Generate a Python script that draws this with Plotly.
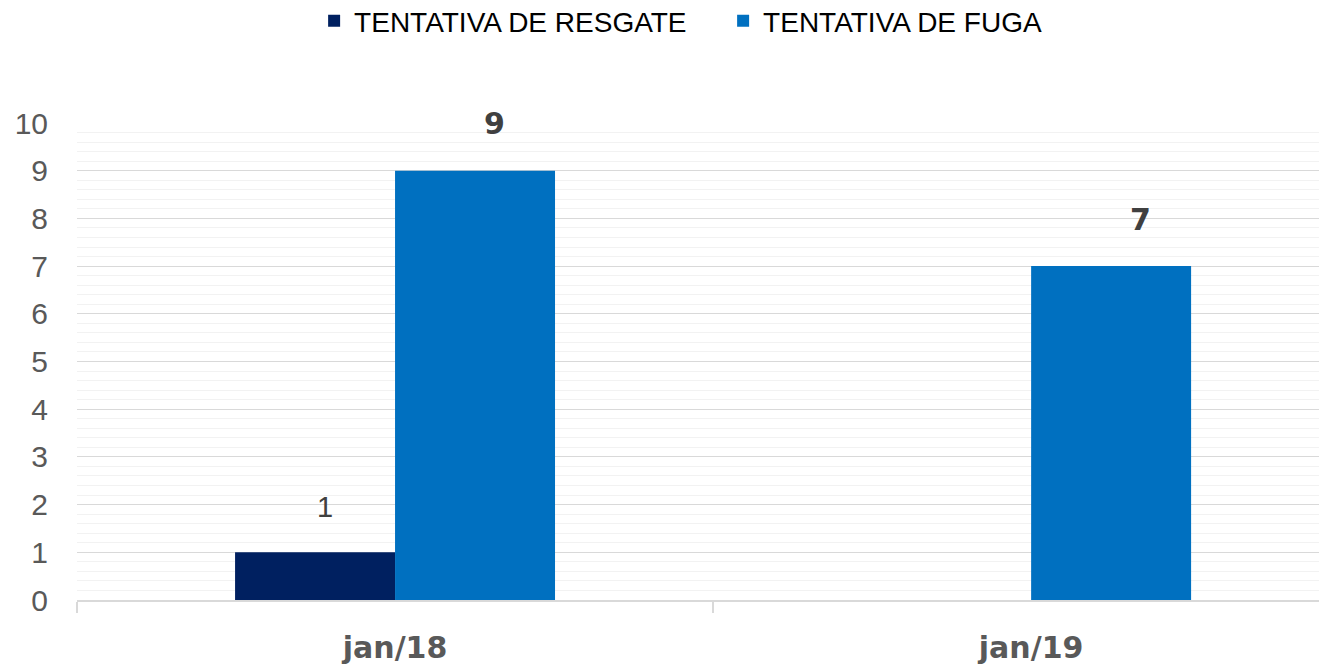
import plotly.graph_objects as go

categories = ["jan/18", "jan/19"]
resgate = [1, None]
fuga = [9, 7]
series_names = ["TENTATIVA DE RESGATE", "TENTATIVA DE FUGA"]
colors = ["#002060", "#0070C0"]

# label offsets (px) relative to category centre
resgate_label_dx = [-70, -70]
fuga_label_dx = [99, 109]

fig = go.Figure()
fig.add_trace(go.Bar(x=categories, y=resgate, name=series_names[0],
                     marker=dict(color=colors[0], line=dict(width=0))))
fig.add_trace(go.Bar(x=categories, y=fuga, name=series_names[1],
                     marker=dict(color=colors[1], line=dict(width=0))))

for c, v, dx in zip(categories, resgate, resgate_label_dx):
    if v is not None:
        fig.add_annotation(x=c, y=v, xshift=dx, yshift=45, text=str(v), showarrow=False,
                           yanchor="middle",
                           font=dict(family="Liberation Sans, Arial", size=29, color="#404040"))
for c, v, dx in zip(categories, fuga, fuga_label_dx):
    fig.add_annotation(x=c, y=v, xshift=dx, yshift=47, text="<b>%d</b>" % v, showarrow=False,
                       yanchor="middle",
                       font=dict(family="DejaVu Sans", size=30, color="#404040"))

fig.update_layout(
    width=1319, height=660,
    margin=dict(l=69, r=2, t=115, b=68, autoexpand=False),
    paper_bgcolor="white", plot_bgcolor="white",
    barmode="group", bargap=0.497, bargroupgap=0,
    showlegend=True,
    legend=dict(orientation="h", x=0.19, xanchor="left", y=1.2135, yanchor="middle",
                font=dict(family="Liberation Sans, Arial", size=28, color="#000000"),
                entrywidth=364, entrywidthmode="pixels", itemwidth=30,
                bgcolor="rgba(0,0,0,0)"),
    xaxis=dict(range=[-0.5, 1.462], showline=True, linecolor="#d9d9d9", linewidth=1.5,
               ticks="outside", tickson="boundaries", ticklen=11, tickcolor="#d9d9d9", tickwidth=1.5,
               showgrid=False, ticklabelstandoff=20, automargin=False,
               tickfont=dict(family="DejaVu Sans", size=30, color="#595959", weight="bold")),
    yaxis=dict(range=[0, 10], dtick=1, showgrid=True, gridcolor="#d9d9d9", gridwidth=1.2,
               zeroline=False, ticks="", ticklabelstandoff=28, automargin=False,
               minor=dict(dtick=0.2, showgrid=True, gridcolor="#f2f2f2", gridwidth=1.2),
               tickfont=dict(family="Liberation Sans, Arial", size=30, color="#595959")),
)

fig.write_html("out.html")
